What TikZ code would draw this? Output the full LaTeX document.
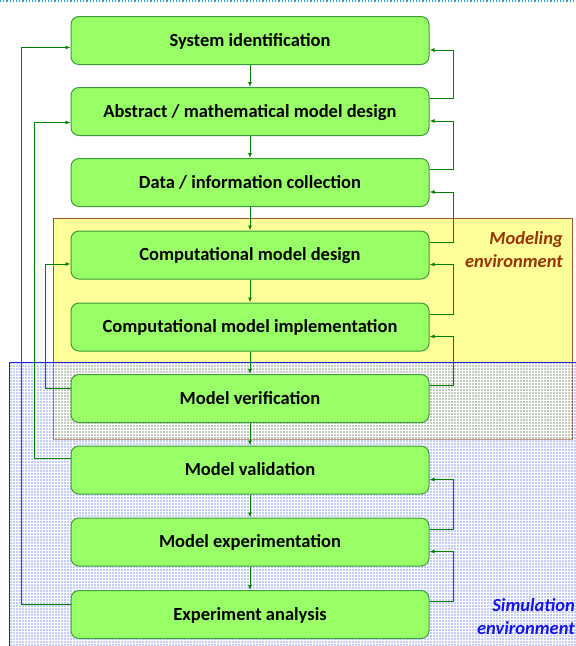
\documentclass[tikz,border=0pt]{standalone}
\usepackage{fontspec}
\setmainfont{Carlito}
\usetikzlibrary{arrows.meta,patterns}
\definecolor{boxfill}{RGB}{153,255,102}
\definecolor{boxline}{RGB}{60,154,60}
\definecolor{flow}{RGB}{0,128,0}
\definecolor{modfill}{RGB}{255,255,153}
\definecolor{modline}{RGB}{160,82,45}
\definecolor{modtext}{RGB}{153,51,0}
\definecolor{simfill}{RGB}{110,135,245}
\definecolor{simline}{RGB}{30,30,230}
\definecolor{simtext}{RGB}{20,20,230}
\definecolor{topline}{RGB}{40,160,230}
\tikzset{
  stage/.style={draw=boxline, line width=1pt, fill=boxfill, rounded corners=8pt,
    minimum width=358pt, minimum height=48pt, text height=13pt, text depth=2pt,
    font=\bfseries\fontsize{18.5}{20}\selectfont},
  flowarrow/.style={draw=flow, line width=1pt, -{Latex[length=5pt,width=4pt]}},
  envlabel/.style={anchor=east, align=right, inner sep=0pt,
    font=\bfseries\itshape\fontsize{18.5}{23}\selectfont}
}
\begin{document}
\begin{tikzpicture}[x=1pt,y=-1pt]
\useasboundingbox (0,0) rectangle (576,646);
% top dotted rule
\draw[topline, line width=1.2pt, dotted] (0,1) -- (576,1);
% modeling environment
\draw[modline, fill=modfill, line width=0.8pt] (53,218) rectangle (572,439);
% simulation environment (translucent, textured, over the modeling one)
\fill[simfill, fill opacity=0.42] (9,362) rectangle (580,650);
\fill[pattern=grid, pattern color=white, fill opacity=0.3] (9,362) rectangle (580,650);
\draw[simline, line width=0.9pt] (580,362) -- (9,362) -- (9,650);
% modeling border seen through the simulation area
\draw[modline, line width=0.8pt, draw opacity=0.6] (53,362) -- (53,439) -- (572,439) -- (572,362);
\node[envlabel, text=modtext] (modlbl) at (563,250) {Modeling\\environment};
\node[envlabel, text=simtext] (simlbl) at (575,617) {Simulation\\environment};
% stages
\node[stage] (b1) at (250,40.5) {System identification};
\node[stage] (b2) at (250,111.5) {Abstract / mathematical model design};
\node[stage] (b3) at (250,182.5) {Data / information collection};
\node[stage] (b4) at (250,255) {Computational model design};
\node[stage] (b5) at (250,327) {Computational model implementation};
\node[stage] (b6) at (250,398.5) {Model verification};
\node[stage] (b7) at (250,470) {Model validation};
\node[stage] (b8) at (250,542) {Model experimentation};
\node[stage] (b9) at (250,614.5) {Experiment analysis};
% forward flow
\foreach \a/\b in {b1/b2,b2/b3,b3/b4,b4/b5,b5/b6,b6/b7,b7/b8,b8/b9}
  \draw[flowarrow] (\a.south) -- (\b.north);
% feedback to the previous stage (right side)
\foreach \a/\b in {b2/b1,b3/b2,b4/b3,b5/b4,b6/b5,b8/b7,b9/b8}
  \draw[flowarrow] ([yshift=13pt]\a.east) -- ++(24,0) |- ([yshift=-9.5pt]\b.east);
% long feedback loops (left side)
\draw[flowarrow] ([yshift=10pt]b9.west) -- ++(-49,0) |- ([yshift=-7pt]b1.west);
\draw[flowarrow] ([yshift=12pt]b7.west) -- ++(-36,0) |- ([yshift=-11pt]b2.west);
\draw[flowarrow] ([yshift=10pt]b6.west) -- ++(-25,0) |- ([yshift=-9pt]b4.west);
\end{tikzpicture}
\end{document}
